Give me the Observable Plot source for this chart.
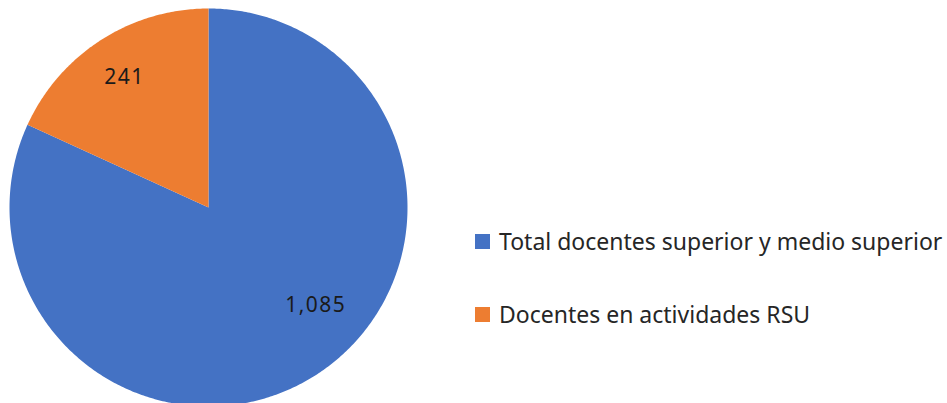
<!DOCTYPE html>
<html>
<head>
<meta charset="utf-8">
<script src="https://cdn.jsdelivr.net/npm/d3@7"></script>
<script src="https://cdn.jsdelivr.net/npm/@observablehq/plot@0.6"></script>
<style>
  html, body { margin: 0; padding: 0; background: #fff; }
  #wrap { position: relative; width: 947px; height: 403px; overflow: hidden; font-family: "Noto Sans", sans-serif; }
  #legend { position: absolute; left: 475px; top: 226px; }
  .item { display: flex; align-items: center; height: 30px; margin-bottom: 43px; font-size: 23px; color: #262626; white-space: nowrap; }
  .sw { width: 15px; height: 15px; margin-right: 9px; flex: none; }
</style>
</head>
<body>
<div id="wrap"></div>
<script>
const categories = ["Total docentes superior y medio superior", "Docentes en actividades RSU"];
const values = [1085, 241];
const labels = ["1,085", "241"];
const colors = ["#4472C4", "#ED7D31"];

const data = categories.map((c, i) => ({name: c, value: values[i], label: labels[i]}));
const arcs = d3.pie().sort(null).value(d => d.value)(data);

// polygon outline points for each slice (unit circle, y up, angle 0 = 12 o'clock clockwise)
const pts = [];
for (const a of arcs) {
  const n = Math.max(2, Math.ceil((a.endAngle - a.startAngle) / 0.01));
  pts.push({name: a.data.name, x: 0, y: 0});
  for (let k = 0; k <= n; k++) {
    const t = a.startAngle + (a.endAngle - a.startAngle) * k / n;
    pts.push({name: a.data.name, x: Math.sin(t), y: Math.cos(t)});
  }
  pts.push({name: a.data.name, x: 0, y: 0});
}

// label anchors: along slice bisector (large slice nudged like Excel best fit)
const lab = arcs.map((a, i) => {
  const mid = (a.startAngle + a.endAngle) / 2 - (i === 0 ? 0.26 : 0);
  const rr = i === 0 ? 0.73 : 0.78;
  return {label: a.data.label, x: rr * Math.sin(mid), y: rr * Math.cos(mid)};
});

const plot = Plot.plot({
  width: 947,
  height: 403,
  margin: 0,
  x: {domain: [-1, 1], range: [9, 407], axis: null},
  y: {domain: [-1, 1], range: [406, 8], axis: null},
  color: {domain: categories, range: colors},
  style: {fontFamily: "Noto Sans, sans-serif", background: "#fff"},
  marks: [
    Plot.line(pts, {x: "x", y: "y", z: "name", fill: "name", stroke: null, curve: "linear"}),
    Plot.text(lab, {x: "x", y: "y", text: "label", fontSize: 21, fill: "#1a1a1a", style: "letter-spacing: 1.5px"})
  ]
});

const wrap = document.getElementById("wrap");
wrap.appendChild(plot);
plot.querySelectorAll("text").forEach(t => t.style.letterSpacing = "1.5px");

const colorScale = plot.scale("color");
const leg = d3.select(wrap).append("div").attr("id", "legend");
const items = leg.selectAll(".item").data(categories).join("div").attr("class", "item");
items.append("div").attr("class", "sw").style("background", (d, i) => colorScale.range[i]);
items.append("span").text(d => d);
</script>
</body>
</html>
